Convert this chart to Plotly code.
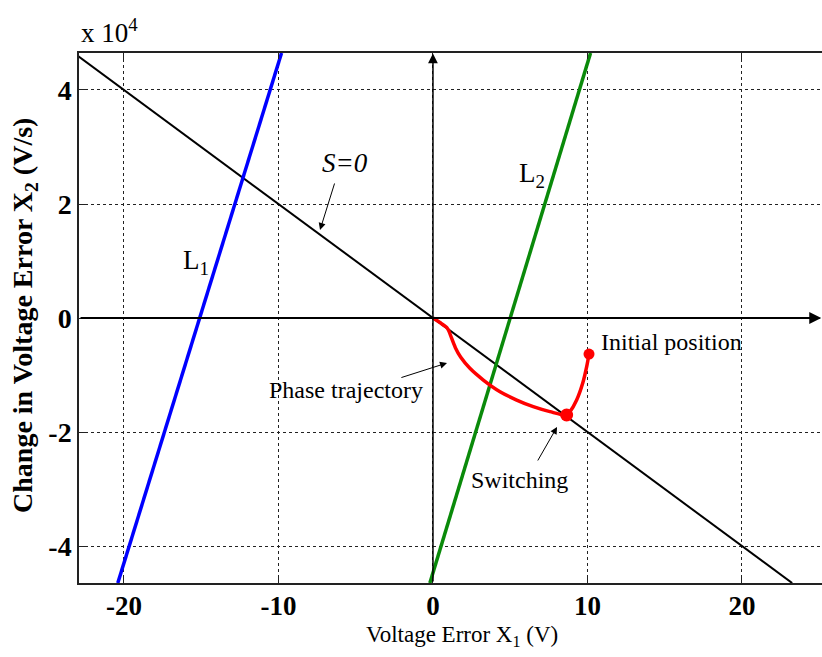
import plotly.graph_objects as go

# ---- data ----
s0_x = [-23.25, 23.25]
s0_y = [46500, -46500]
l1_x = [-20.4, -9.8]
l1_y = [-46500, 46500]
l2_x = [-0.2, 10.2]
l2_y = [-46500, 46500]
traj_x = [10.1, 9.95, 9.69, 9.30, 8.87, 8.65, 7.57, 6.49, 5.42, 4.34, 3.26, 2.39, 1.80, 1.45, 1.20, 1.03, 0.90, 0.45, 0.0]
traj_y = [-6320, -8540, -11460, -14390, -16430, -17020, -16430, -15560, -14390, -12930, -10880, -8830, -6900, -5200, -3500, -2300, -1700, -800, 0]
init_pt = (10.1, -6320)
switch_pt = (8.65, -17020)
x_ticks = [-20, -10, 0, 10, 20]
x_ticktext = ["-20", "-10", "0", "10", "20"]
y_ticks = [-40000, -20000, 0, 20000, 40000]
y_ticktext = ["-4", "-2", "0", "2", "4"]
x_range = [-22.91, 25.18]
y_range = [-46490, 46490]

SERIF = "Liberation Serif, Times New Roman, serif"

fig = go.Figure()
fig.add_trace(go.Scatter(x=s0_x, y=s0_y, mode="lines", line=dict(color="black", width=2), showlegend=False))
fig.add_trace(go.Scatter(x=l1_x, y=l1_y, mode="lines", line=dict(color="#0000ff", width=3.5), showlegend=False))
fig.add_trace(go.Scatter(x=l2_x, y=l2_y, mode="lines", line=dict(color="#0a8a0a", width=3.5), showlegend=False))
fig.add_trace(go.Scatter(x=traj_x, y=traj_y, mode="lines", line=dict(color="#ff0000", width=3.5, shape="spline", smoothing=0.8), showlegend=False))
fig.add_trace(go.Scatter(x=[init_pt[0]], y=[init_pt[1]], mode="markers", marker=dict(color="#ff0000", size=11), showlegend=False))
fig.add_trace(go.Scatter(x=[switch_pt[0]], y=[switch_pt[1]], mode="markers", marker=dict(color="#ff0000", size=13), showlegend=False))

annotations = []
# axis arrows
annotations.append(dict(x=x_range[1] - 0.05, y=0, ax=x_range[0], ay=0, xref="x", yref="y", axref="x", ayref="y",
                        text="", showarrow=True, arrowhead=2, arrowsize=1.2, arrowwidth=2, arrowcolor="black"))
annotations.append(dict(x=0, y=y_range[1] - 100, ax=0, ay=y_range[0], xref="x", yref="y", axref="x", ayref="y",
                        text="", showarrow=True, arrowhead=2, arrowsize=1.3, arrowwidth=1.5, arrowcolor="black"))
# pointer arrows
for (hx, hy, tx, ty) in [(-7.31, 15440, -6.34, 23860), (0.91, -7890, -2.14, -10530), (8.03, -19120, 6.73, -25260)]:
    annotations.append(dict(x=hx, y=hy, ax=tx, ay=ty, xref="x", yref="y", axref="x", ayref="y",
                            text="", showarrow=True, arrowhead=2, arrowsize=1.4, arrowwidth=1, arrowcolor="black"))
# text labels
txt_font = dict(family=SERIF, size=24, color="black")
lab_font = dict(family=SERIF, size=27, color="black")
annotations += [
    dict(x=-5.70, y=27190, text="<i>S=0</i>", showarrow=False, xanchor="center", yanchor="middle",
         font=dict(family=SERIF, size=27, color="black")),
    dict(x=-15.34, y=9820, text="L<sub>1</sub>", showarrow=False, xanchor="center", yanchor="middle", font=lab_font),
    dict(x=6.41, y=25090, text="L<sub>2</sub>", showarrow=False, xanchor="center", yanchor="middle", font=lab_font),
    dict(x=10.74, y=-4210, text="Initial position", showarrow=False, xanchor="left", yanchor="middle", font=txt_font),
    dict(x=-5.63, y=-12630, text="Phase trajectory", showarrow=False, xanchor="center", yanchor="middle", font=txt_font),
    dict(x=5.63, y=-28420, text="Switching", showarrow=False, xanchor="center", yanchor="middle", font=txt_font),
]
# axis titles and exponent
annotations += [
    dict(x=0.5155, y=-0.1, xref="paper", yref="paper", xanchor="center", yanchor="middle",
         text="Voltage Error X<sub>1</sub> (V)",
         showarrow=False, font=dict(family=SERIF, size=23, color="black")),
    dict(x=-0.0727, y=0.5057, xref="paper", yref="paper", xanchor="center", yanchor="middle",
         text="<b>Change in Voltage Error X<sub>2</sub> (V/s)</b>",
         textangle=-90, showarrow=False, font=dict(family=SERIF, size=28, color="black")),
    dict(x=0.0, y=1.0, xref="paper", yref="paper", xanchor="left", yanchor="bottom", yshift=3,
         text="x 10<sup>4</sup>", showarrow=False, font=dict(family=SERIF, size=27, color="black")),
]

fig.update_layout(
    width=822, height=657,
    margin=dict(l=79, r=0, t=53, b=74),
    paper_bgcolor="white", plot_bgcolor="white",
    annotations=annotations,
    font=dict(family=SERIF, color="black"),
)
fig.update_xaxes(range=x_range, tickvals=x_ticks, ticktext=x_ticktext,
                 tickfont=dict(family=SERIF, size=27, color="black", weight="bold"),
                 ticklabelstandoff=-2,
                 showline=True, linecolor="#222", linewidth=1.5, mirror="ticks",
                 ticks="inside", ticklen=6, tickcolor="#222",
                 showgrid=True, gridcolor="#222", griddash="dot", gridwidth=1, zeroline=False)
fig.update_yaxes(range=y_range, tickvals=y_ticks, ticktext=y_ticktext,
                 tickfont=dict(family=SERIF, size=28, color="black", weight="bold"),
                 showline=True, linecolor="#222", linewidth=1.5, mirror=False,
                 ticks="inside", ticklen=6, tickcolor="#222",
                 showgrid=True, gridcolor="#222", griddash="dot", gridwidth=1, zeroline=False)

fig.write_html("out.html")
